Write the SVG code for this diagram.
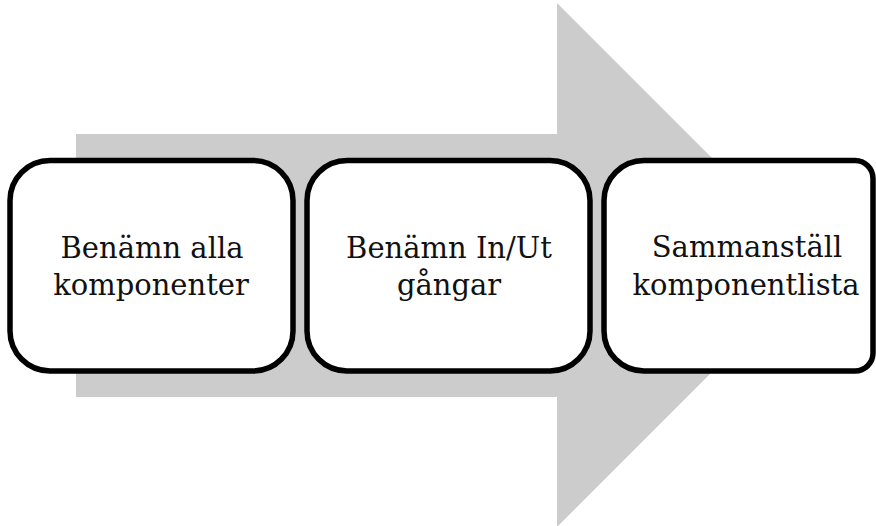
<svg xmlns="http://www.w3.org/2000/svg" width="876" height="526" viewBox="0 0 876 526">
  <style>
    .step { fill: #ffffff; stroke: #000000; stroke-width: 5.5; }
    .label { font-family: "DejaVu Serif", "Liberation Serif", serif; font-size: 29px; fill: #111111; text-anchor: middle; }
  </style>
  <!-- backdrop process arrow -->
  <g id="connectors">
    <polygon points="76,134 557,134 557,3 819,265 557,527 557,397 76,397" fill="#cccccc"/>
  </g>
  <g id="step1">
    <rect class="step" x="10" y="160.5" width="283" height="210.5" rx="40" ry="40"/>
    <text class="label" x="152" y="258">Benämn alla</text>
    <text class="label" x="151" y="295">komponenter</text>
  </g>
  <g id="step2">
    <rect class="step" x="307" y="160.5" width="283" height="210.5" rx="40" ry="40"/>
    <text class="label" x="449" y="258">Benämn In/Ut</text>
    <text class="label" x="449" y="295">gångar</text>
  </g>
  <g id="step3">
    <path class="step" d="M644,160.5 H855 A18,18 0 0 1 873,178.5 V353 A18,18 0 0 1 855,371 H644 A40,40 0 0 1 604,331 V200.5 A40,40 0 0 1 644,160.5 Z"/>
    <text class="label" x="747" y="257">Sammanställ</text>
    <text class="label" x="746" y="295">komponentlista</text>
  </g>
</svg>
